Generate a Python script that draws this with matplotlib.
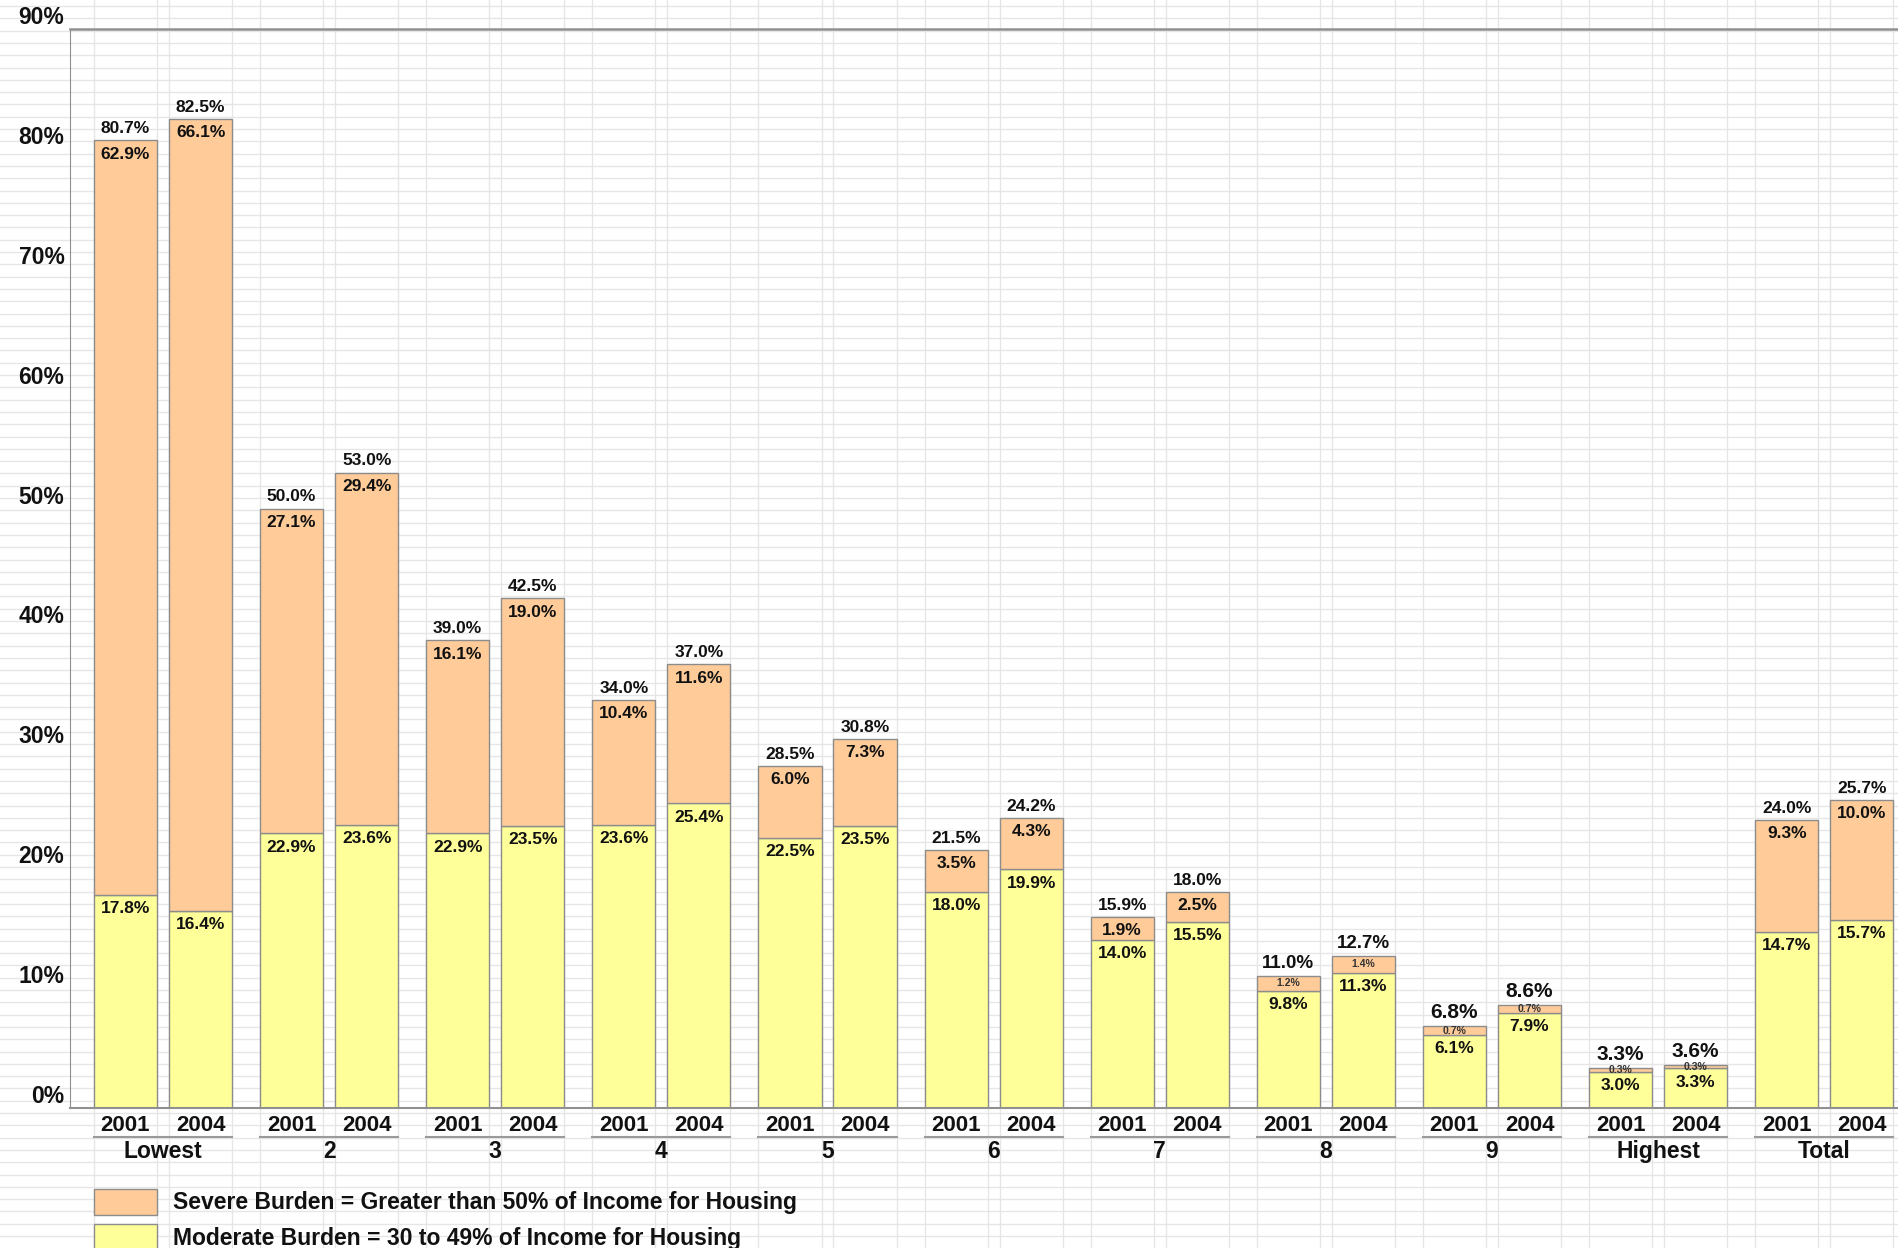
import numpy as np
import matplotlib
matplotlib.use('Agg')
import matplotlib.pyplot as plt
from matplotlib.lines import Line2D
from matplotlib.patches import Rectangle
import matplotlib.transforms as mtransforms

plt.rcParams['font.family'] = ['Liberation Sans', 'DejaVu Sans']
plt.rcParams['font.weight'] = 'bold'

# data (percent of households)
groups = ['Lowest', '2', '3', '4', '5', '6', '7', '8', '9', 'Highest', 'Total']
years = ['2001', '2004']
moderate_2001 = [17.8, 22.9, 22.9, 23.6, 22.5, 18.0, 14.0, 9.8, 6.1, 3.0, 14.7]
moderate_2004 = [16.4, 23.6, 23.5, 25.4, 23.5, 19.9, 15.5, 11.3, 7.9, 3.3, 15.7]
severe_2001 = [62.9, 27.1, 16.1, 10.4, 6.0, 3.5, 1.9, 1.2, 0.7, 0.3, 9.3]
severe_2004 = [66.1, 29.4, 19.0, 11.6, 7.3, 4.3, 2.5, 1.4, 0.7, 0.3, 10.0]
total_2001 = [80.7, 50.0, 39.0, 34.0, 28.5, 21.5, 15.9, 11.0, 6.8, 3.3, 24.0]
total_2004 = [82.5, 53.0, 42.5, 37.0, 30.8, 24.2, 18.0, 12.7, 8.6, 3.6, 25.7]

severe_col = '#FFCC99'
moderate_col = '#FFFF99'
edge_col = '#8c8c8c'

W, H = 1899, 1248
fig = plt.figure(figsize=(W / 100, H / 100), dpi=100)
fig.patch.set_facecolor('white')

# spreadsheet-like background grid
for yp in np.arange(6, H, 12.3):
    fig.add_artist(Line2D([0, 1], [1 - yp / H] * 2, color='#e6e6e6', lw=1, zorder=0))

ax = fig.add_axes([70 / W, 1 - 1108 / H, 1 - 70 / W, (1108 - 29) / H])
ax.set_facecolor('none')

x = np.arange(len(groups))
off = 0.226
bw = 0.38
xs = [x - off, x + off]
mods = [moderate_2001, moderate_2004]
sevs = [severe_2001, severe_2004]
tots = [total_2001, total_2004]

# vertical column lines at bar edges
for xx in xs:
    for e in np.concatenate([xx - bw / 2, xx + bw / 2]):
        ax.axvline(e, ymin=-0.13, ymax=1.03, color='#e6e6e6', lw=1, clip_on=False, zorder=0)

total_fs = [12.5, 12.5, 12.5, 12.5, 12.5, 12.5, 12.5, 13.5, 15, 15, 12.5]

for k in range(2):
    m = np.array(mods[k])
    s = np.array(sevs[k])
    ax.bar(xs[k], m, bw, color=moderate_col, edgecolor=edge_col, lw=1, zorder=2)
    ax.bar(xs[k], s, bw, bottom=m, color=severe_col, edgecolor=edge_col, lw=1, zorder=2)
    for i in range(len(groups)):
        t = tots[k][i]
        ax.annotate(f'{t:.1f}%', (xs[k][i], t), xytext=(0, 3), textcoords='offset points',
                    ha='center', va='bottom', fontsize=total_fs[i], color='#111111', zorder=3)
        if s[i] >= 1.5:
            ax.annotate(f'{s[i]:.1f}%', (xs[k][i], t), xytext=(0, -9.8), textcoords='offset points',
                        ha='center', va='center', fontsize=12.5, color='#111111', zorder=3)
        else:
            ax.text(xs[k][i], m[i] + s[i] / 2, f'{s[i]:.1f}%', ha='center', va='center',
                    fontsize=7.5, color='#333333', zorder=3)
        ax.annotate(f'{m[i]:.1f}%', (xs[k][i], m[i]), xytext=(0, -9.8), textcoords='offset points',
                    ha='center', va='center', fontsize=12.5, color='#111111', zorder=3)

ax.set_xlim(-0.56, 10.45)
ax.set_ylim(0, 90)

yt = np.arange(0, 91, 10)
ax.set_yticks(yt, [f'{v}%' for v in yt])
for lab in ax.get_yticklabels():
    lab.set_verticalalignment('bottom')
ax.tick_params(axis='y', length=0, pad=4, labelsize=16.5, labelcolor='#111111')

pos = np.concatenate([xs[0], xs[1]])
labs = [years[0]] * len(groups) + [years[1]] * len(groups)
ax.set_xticks(pos, labs)
ax.tick_params(axis='x', length=0, pad=5, labelsize=16, labelcolor='#111111')

trans = mtransforms.blended_transform_factory(ax.transData, ax.transAxes)
for i, g in enumerate(groups):
    ax.add_line(Line2D([xs[0][i] - bw / 2, xs[1][i] + bw / 2], [-0.027, -0.027], transform=trans,
                       color='#9a9a9a', lw=1.5, clip_on=False))
    ax.text(x[i], -0.04, g, transform=trans, ha='center', va='center', fontsize=16.5,
            color='#111111')

for side in ['left', 'bottom', 'top']:
    ax.spines[side].set_color('#909090')
ax.spines['top'].set_linewidth(1.8)
ax.spines['bottom'].set_linewidth(1.5)
ax.spines['right'].set_visible(False)

# legend drawn like the original
for y0, col, txt in [(1189, severe_col, 'Severe Burden = Greater than 50% of Income for Housing'),
                     (1224, moderate_col, 'Moderate Burden = 30 to 49% of Income for Housing')]:
    fig.add_artist(Rectangle((94 / W, 1 - (y0 + 26) / H), 63 / W, 26 / H, facecolor=col,
                             edgecolor='#8c8c8c', lw=1, transform=fig.transFigure))
    fig.text(173 / W, 1 - (y0 + 14) / H, txt, ha='left', va='center', fontsize=16.5,
             color='#111111')

fig.savefig('out.png', dpi=100)
